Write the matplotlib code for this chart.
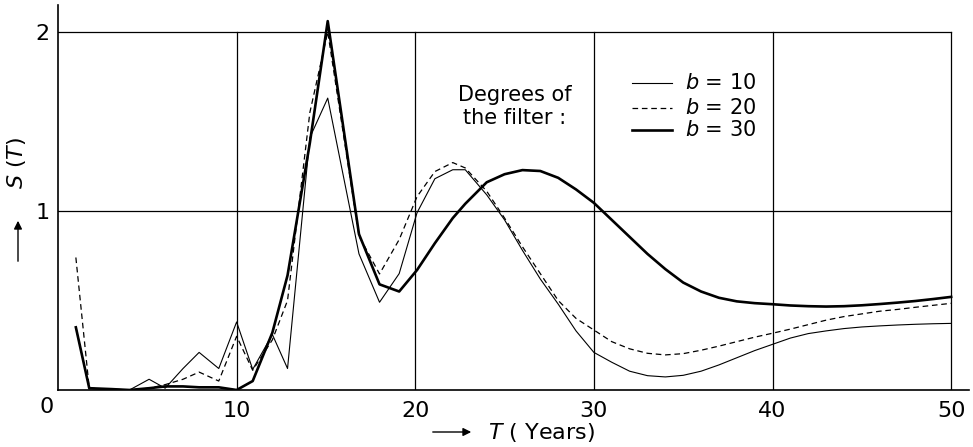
import matplotlib
matplotlib.use("Agg")
import matplotlib.pyplot as plt

# ---------------- data ----------------
T = [1.0, 1.75, 3, 4, 5.1, 6, 7, 7.9, 9, 10, 10.9, 12, 12.85, 14.1, 15.1,
     16.85, 18, 19.1, 20.1, 21.1, 22.1, 22.8, 24, 25, 26, 27, 28, 29, 30,
     31, 32, 33, 34, 35, 36, 37, 38, 39, 40, 41, 42, 43, 44, 45, 46, 47,
     48, 49, 50]

S_b10 = [0.35, 0.01, 0.0, 0.0, 0.06, 0.01, 0.12, 0.21, 0.12, 0.38, 0.115,
         0.31, 0.12, 1.41, 1.63, 0.76, 0.49, 0.65, 0.99, 1.18, 1.23, 1.23,
         1.09, 0.95, 0.78, 0.62, 0.48, 0.33, 0.21, 0.155, 0.105, 0.08,
         0.073, 0.082, 0.105, 0.14, 0.18, 0.22, 0.255, 0.29, 0.315, 0.33,
         0.343, 0.352, 0.358, 0.363, 0.367, 0.37, 0.372]

S_b20 = [0.74, 0.01, 0.005, 0.0, 0.01, 0.03, 0.06, 0.10, 0.05, 0.30, 0.11,
         0.28, 0.50, 1.55, 2.0, 0.86, 0.648, 0.84, 1.08, 1.22, 1.27, 1.24,
         1.11, 0.96, 0.80, 0.65, 0.50, 0.40, 0.335, 0.27, 0.23, 0.205,
         0.196, 0.203, 0.222, 0.245, 0.27, 0.295, 0.317, 0.34, 0.365, 0.39,
         0.41, 0.425, 0.44, 0.45, 0.462, 0.473, 0.484]

S_b30 = [0.35, 0.01, 0.005, 0.0, 0.01, 0.02, 0.02, 0.015, 0.015, 0.0, 0.05,
         0.32, 0.64, 1.38, 2.06, 0.87, 0.59, 0.55, 0.67, 0.82, 0.96, 1.04,
         1.16, 1.205, 1.228, 1.223, 1.185, 1.12, 1.045, 0.95, 0.855, 0.76,
         0.675, 0.60, 0.55, 0.515, 0.495, 0.485, 0.479, 0.472, 0.468, 0.466,
         0.468, 0.473, 0.48, 0.488, 0.497, 0.508, 0.52]

x_ticks = [10, 20, 30, 40, 50]
y_ticks = [1, 2]
legend_labels = [r"$\mathit{b}$ = 10", r"$\mathit{b}$ = 20", r"$\mathit{b}$ = 30"]

# ---------------- figure ----------------
W, H = 973, 447
fig = plt.figure(figsize=(W / 100, H / 100), dpi=100)
plt.rcParams['mathtext.fontset'] = 'dejavusans'
ax = fig.add_axes([58 / W, 57 / H, 911 / W, 385 / H])
ax.set_xlim(0, 51)
ax.set_ylim(0, 2.15)

# grid box (0..50, 0..2)
for y in y_ticks:
    ax.plot([0, 50], [y, y], color='black', lw=0.9, zorder=1)
for x in x_ticks:
    ax.plot([x, x], [0, 2], color='black', lw=0.9, zorder=1)

ax.plot(T, S_b10, color='black', lw=0.8, zorder=3)
ax.plot(T, S_b20, color='black', lw=0.9, ls=(0, (4.5, 3)), zorder=3)
ax.plot(T, S_b30, color='black', lw=1.9, zorder=4)

for s in ['top', 'right']:
    ax.spines[s].set_visible(False)
for s in ['left', 'bottom']:
    ax.spines[s].set_linewidth(1.2)

ax.set_xticks(x_ticks)
ax.set_xticklabels([str(v) for v in x_ticks], fontsize=16)
ax.set_yticks(y_ticks)
ax.set_yticklabels([str(v) for v in y_ticks], fontsize=16)
ax.tick_params(axis='both', length=0)
ax.tick_params(axis='x', pad=8)
ax.tick_params(axis='y', pad=6)

# corner "0"
fig.text(47 / W, 1 - 407 / H, "0", fontsize=16, ha='center', va='center')

# axis labels with arrows
fig.text(488 / W, 1 - 432 / H, r"$\mathit{T}$ ( Years)", fontsize=16,
         ha='left', va='center')
ax.annotate("", xy=(474, H - 432), xycoords='figure pixels',
            xytext=(430, H - 432), textcoords='figure pixels',
            arrowprops=dict(arrowstyle='-|>', color='black', lw=1.0,
                            mutation_scale=12))
fig.text(17 / W, 1 - 163 / H, r"$\mathit{S}$ ($\mathit{T}$)", fontsize=16,
         ha='center', va='center', rotation=90)
ax.annotate("", xy=(18, H - 218), xycoords='figure pixels',
            xytext=(18, H - 264), textcoords='figure pixels',
            arrowprops=dict(arrowstyle='-|>', color='black', lw=1.0,
                            mutation_scale=12))

# legend block
fig.text(515 / W, 1 - 95 / H, "Degrees of", fontsize=15, ha='center', va='center')
fig.text(515 / W, 1 - 118 / H, "the filter :", fontsize=15, ha='center', va='center')
leg_y = [83, 108, 130]
styles = [dict(lw=0.8, ls='-'), dict(lw=0.9, ls=(0, (4.5, 3))), dict(lw=1.9, ls='-')]
for yy, st, lab in zip(leg_y, styles, legend_labels):
    fig.add_artist(plt.Line2D([632 / W, 672 / W], [1 - yy / H, 1 - yy / H],
                              color='black', transform=fig.transFigure, **st))
    fig.text(685 / W, 1 - yy / H, lab, fontsize=15, ha='left', va='center')

fig.savefig("out.png", dpi=100)
